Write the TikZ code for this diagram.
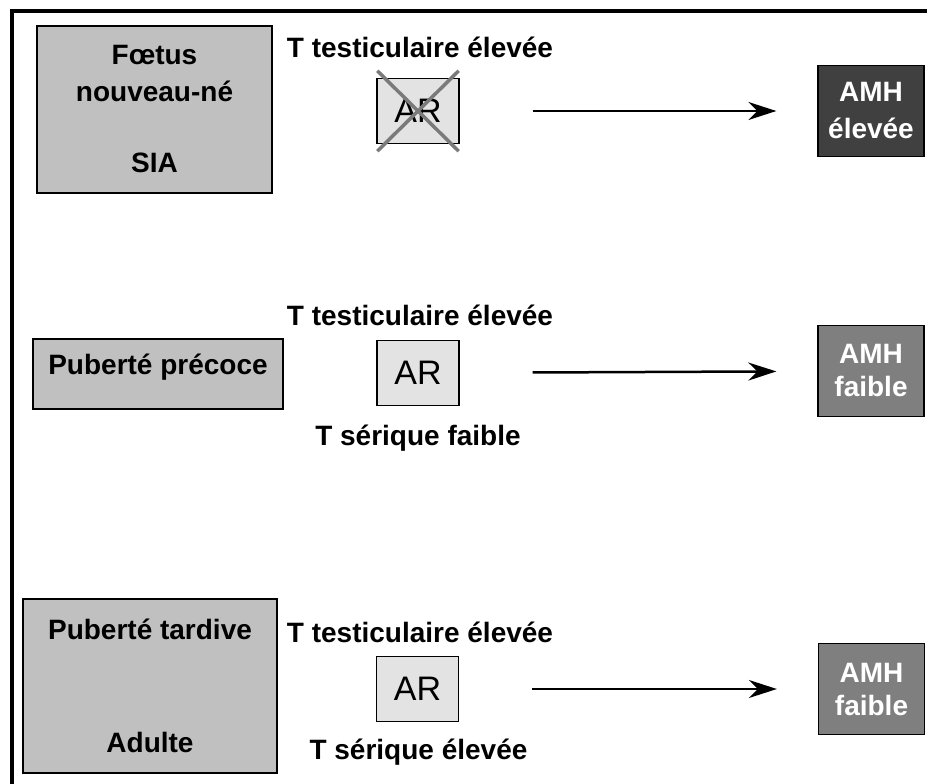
\documentclass[tikz,border=0pt]{standalone}
\usepackage{fontspec}
\setmainfont{Liberation Sans}
\usetikzlibrary{arrows.meta,calc}
\definecolor{stage}{HTML}{C0C0C0}
\definecolor{receptor}{HTML}{E3E3E3}
\definecolor{amhhigh}{HTML}{404040}
\definecolor{amhlow}{HTML}{7F7F7F}
\definecolor{blocked}{HTML}{7A7A7A}

\tikzset{
  stagebox/.style={draw,line width=1.3pt,fill=stage,inner sep=0pt,align=center,
    font=\fontsize{28}{37}\selectfont\bfseries},
  arbox/.style={draw,line width=1.3pt,fill=receptor,inner sep=0pt,
    minimum width=82pt,minimum height=65pt,font=\fontsize{34}{40}\selectfont},
  amhbox/.style={draw,line width=1.3pt,text=white,inner sep=0pt,align=center,
    minimum width=106pt,minimum height=91pt,font=\fontsize{28}{33}\selectfont\bfseries},
  lbl/.style={anchor=base,inner sep=0pt,font=\fontsize{28}{34}\selectfont\bfseries},
  flow/.style={line width=2.5pt,-{Stealth[length=28pt,width=18pt]},
    shorten <=73pt,shorten >=41pt}
}

\begin{document}
\begin{tikzpicture}[x=1pt,y=-1pt]
  \useasboundingbox (0,0) rectangle (927,784);
  % open frame, only top and left edges inside the page
  \draw[line width=4pt] (11.5,800) -- (11.5,11.5) -- (940,11.5);

  % row 1 : foetus
  \node[stagebox,minimum width=235pt,minimum height=167pt] (foetus) at (154.5,109.5)
    {F\oe tus\\nouveau-né\\[34pt]SIA};
  \node[arbox] (ar1) at (418,111) {AR};
  \draw[blocked,line width=3.5pt] ([shift={(1,-7)}]ar1.north west) -- ([shift={(-1,7)}]ar1.south east);
  \draw[blocked,line width=3.5pt] ([shift={(-1,-7)}]ar1.north east) -- ([shift={(1,7)}]ar1.south west);
  \node[lbl] (tt1) at (420,58) {T testiculaire élevée};
  \node[amhbox,fill=amhhigh,font=\fontsize{28}{37}\selectfont\bfseries] (amh1) at (871,111) {AMH\\élevée};
  \draw[flow] (ar1) -- (amh1);

  % row 2 : puberte precoce
  \node[stagebox,minimum width=250pt,minimum height=70pt,text height=20pt,text depth=20pt] (precoce) at (158,374)
    {Puberté précoce};
  \node[arbox] (ar2) at (418,373) {AR};
  \node[lbl] (tt2) at (420,325) {T testiculaire élevée};
  \node[lbl] (ts2) at (418,445) {T sérique faible};
  \node[amhbox,fill=amhlow] (amh2) at (871,371) {AMH\\faible};
  \draw[flow] (ar2) -- (amh2);

  % row 3 : puberte tardive
  \node[stagebox,minimum width=254pt,minimum height=174pt] (tardive) at (150,686)
    {Puberté tardive\\[76pt]Adulte};
  \node[arbox] (ar3) at (417.5,689) {AR};
  \node[lbl] (tt3) at (420,642) {T testiculaire élevée};
  \node[lbl] (ts3) at (418.5,759) {T sérique élevée};
  \node[amhbox,fill=amhlow] (amh3) at (871.5,689) {AMH\\faible};
  \draw[flow] (ar3) -- (amh3);
\end{tikzpicture}
\end{document}
